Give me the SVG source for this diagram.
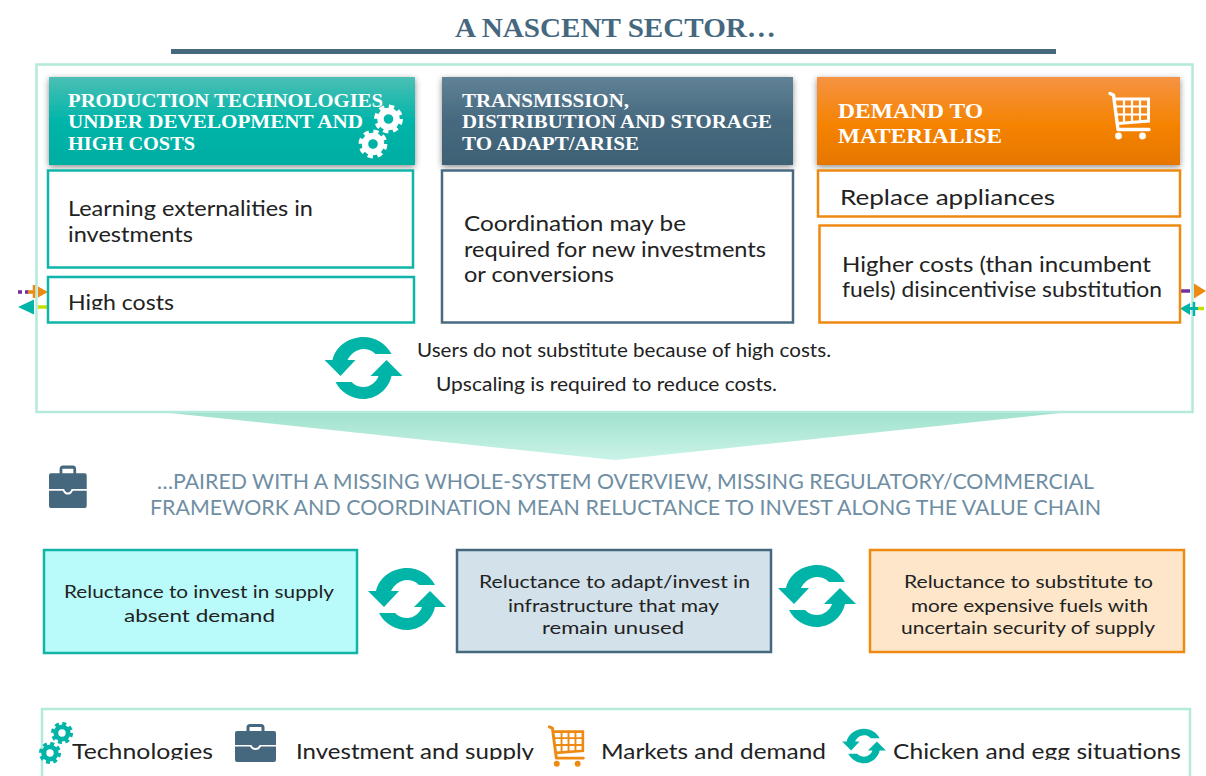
<svg xmlns="http://www.w3.org/2000/svg" width="1206" height="776" viewBox="0 0 1206 776">
<style>
text{font-family:"Lato","Noto Sans","Liberation Sans",sans-serif;fill:#222}
.b{font-size:20.500px}
.m{font-size:18.500px}
.s{font-size:18px}
.cap{font-size:20.500px;fill:#6f8ea3}
.h{font-family:"Liberation Serif",serif;font-weight:700;font-size:19px;fill:#fff}
.h2{font-family:"Liberation Serif",serif;font-weight:700;font-size:22px;fill:#fff}
.teal{fill:#fff;stroke:#0fb5a9;stroke-width:2.500}
.blue{fill:#fff;stroke:#4a6a80;stroke-width:2.500}
.org{fill:#fff;stroke:#ee8a12;stroke-width:2.500}
.frame{fill:#fff;stroke:#b4eadc;stroke-width:2.500}
</style>
<defs>
<linearGradient id="gt" x1="0" y1="0" x2="0" y2="1"><stop offset="0" stop-color="#4cbfb5"/><stop offset=".5" stop-color="#00b5a9"/><stop offset="1" stop-color="#00ada1"/></linearGradient>
<linearGradient id="gb" x1="0" y1="0" x2="0" y2="1"><stop offset="0" stop-color="#618296"/><stop offset=".5" stop-color="#46697f"/><stop offset="1" stop-color="#3e6175"/></linearGradient>
<linearGradient id="go" x1="0" y1="0" x2="0" y2="1"><stop offset="0" stop-color="#f59343"/><stop offset=".55" stop-color="#f58300"/><stop offset="1" stop-color="#e67600"/></linearGradient>
<linearGradient id="gw" x1="0" y1="0" x2="0" y2="1"><stop offset="0" stop-color="#a2e2ce"/><stop offset="1" stop-color="#c9f3e8"/></linearGradient>
<filter id="sh" x="-5%" y="-10%" width="110%" height="125%"><feDropShadow dx="0" dy="2" stdDeviation="3" flood-color="#000" flood-opacity=".45"/></filter>
<clipPath id="c1"><rect x="60" y="280" width="200" height="30"/></clipPath>
<clipPath id="c2"><rect x="60" y="730" width="1140" height="30"/></clipPath>
<g id="gear">
<circle r="8" fill="none" stroke="currentColor" stroke-width="6.400"/>
<circle r="12.400" fill="none" stroke="currentColor" stroke-width="4" stroke-dasharray="5.200 4.540"/>
</g>
<g id="cycle" fill="#00b4a8">
<path d="M-31,-8C-28,-22 -14,-31 0,-31C12,-31 23,-24 28,-14L12,-14C8,-18 4,-19 0,-19C-7,-19 -13,-14 -16,-8L-8,-8L-23,8L-39,-8Z"/>
<path d="M28,8C25,22 12,31 0,31C-12,31 -23,24 -28,14L-12,14C-8,18 -4,19 0,19C7,19 13,14 15,8L7,8L23,-8L39,8Z"/>
</g>
<g id="cart" fill="none" stroke="currentColor">
<path d="M1,1.500L4.500,3L9,37.500H40" stroke-width="3.400" stroke-linecap="round" stroke-linejoin="round"/>
<path d="M6,7H39.500V29L8.500,31.500" stroke-width="3"/>
<path d="M7,14.500H39M7.500,22.500H39M15,6V30M23,6V30M31,6V30" stroke-width="2.200"/>
<circle cx="9.500" cy="44" r="3.400" fill="currentColor" stroke="none"/>
<circle cx="33.500" cy="44" r="3.400" fill="currentColor" stroke="none"/>
</g>
<g id="case">
<path fill="none" stroke="#46687f" stroke-width="3" d="M13,9V3.500Q13,1.500 15,1.500H26Q28,1.500 28,3.500V9"/>
<path fill="#46687f" d="M2,7H39Q41,7 41,9V21H24.500Q23.500,24 20.500,24Q17.500,24 16.500,21H0V9Q0,7 2,7Z"/>
<path fill="#46687f" d="M0,22.500H15Q17,26 20.500,26Q24,26 26,22.500H41V36Q41,38 39,38H2Q0,38 0,36Z"/>
</g>
</defs>

<rect width="1206" height="776" fill="#fff"/>

<g id="title">
<text x="455" y="37" textLength="321" lengthAdjust="spacingAndGlyphs" style="font-family:'Liberation Serif',serif;font-weight:700;font-size:28px;fill:#46687f">A NASCENT SECTOR…</text>
<rect x="171" y="49" width="885" height="5" fill="#46687f"/>
</g>

<g id="panel">
<rect class="frame" x="36.500" y="64.500" width="1156" height="347.500"/>
<path d="M170,413H1060L615,460Z" fill="url(#gw)"/>
</g>

<g id="connectors">
<path d="M18,292H30" stroke="#7030a0" stroke-width="3.500" stroke-dasharray="4 3" fill="none"/>
<path d="M28,292H35" stroke="#ee8a12" stroke-width="3.500" fill="none"/>
<path d="M34,285V298" stroke="#ee8a12" stroke-width="2.500" fill="none"/>
<path d="M38,286.500L48,292L38,297.500Z" fill="#ee8a12"/>
<path d="M18,307L34,299.500V314.500Z" fill="#00b4a8"/>
<path d="M38,307H48" stroke="#c4e000" stroke-width="3.500" fill="none"/>
<path d="M1180,291H1190" stroke="#7030a0" stroke-width="3.500" fill="none"/>
<path d="M1194,283.500L1206,291L1194,298.500Z" fill="#ee8a12"/>
<path d="M1180,308.500L1190,303V315Z" fill="#00b4a8"/>
<path d="M1190,308.500H1198" stroke="#00b4a8" stroke-width="3" fill="none"/>
<path d="M1194,302V316" stroke="#00b4a8" stroke-width="2.500" fill="none"/>
<path d="M1198,308.500H1204" stroke="#c4e000" stroke-width="3.500" fill="none"/>
</g>

<g id="header-production">
<rect x="49" y="77" width="366" height="88" fill="url(#gt)" filter="url(#sh)"/>
<text class="h" x="68" y="107" textLength="315" lengthAdjust="spacingAndGlyphs">PRODUCTION TECHNOLOGIES</text>
<text class="h" x="68" y="128" textLength="295" lengthAdjust="spacingAndGlyphs">UNDER DEVELOPMENT AND</text>
<text class="h" x="68" y="150" textLength="127" lengthAdjust="spacingAndGlyphs">HIGH COSTS</text>
<use href="#gear" transform="translate(388.500 119)" color="#fff"/>
<use href="#gear" transform="translate(373 144)" color="#fff"/>
</g>
<g id="header-transmission">
<rect x="442" y="77" width="351" height="88" fill="url(#gb)" filter="url(#sh)"/>
<text class="h" x="462" y="107" textLength="167" lengthAdjust="spacingAndGlyphs">TRANSMISSION,</text>
<text class="h" x="462" y="128" textLength="310" lengthAdjust="spacingAndGlyphs">DISTRIBUTION AND STORAGE</text>
<text class="h" x="462" y="150" textLength="177" lengthAdjust="spacingAndGlyphs">TO ADAPT/ARISE</text>
</g>
<g id="header-demand">
<rect x="817" y="77" width="363" height="88" fill="url(#go)" filter="url(#sh)"/>
<text class="h2" x="838" y="118" textLength="145" lengthAdjust="spacingAndGlyphs">DEMAND TO</text>
<text class="h2" x="838" y="143" textLength="164" lengthAdjust="spacingAndGlyphs">MATERIALISE</text>
<use href="#cart" transform="translate(1109 92)" color="#fff"/>
</g>

<g id="box-learning">
<rect class="teal" x="48" y="170.500" width="365" height="97"/>
<text class="b" x="68" y="216" textLength="245" lengthAdjust="spacingAndGlyphs">Learning externalities in</text>
<text class="b" x="68" y="242" textLength="125" lengthAdjust="spacingAndGlyphs">investments</text>
</g>
<g id="box-high-costs">
<rect class="teal" x="48" y="277" width="366" height="45.500"/>
<text class="b" x="68" y="310" textLength="106" lengthAdjust="spacingAndGlyphs" clip-path="url(#c1)">High costs</text>
</g>
<g id="box-coordination">
<rect class="blue" x="442" y="170.500" width="351" height="152"/>
<text class="b" x="464" y="231" textLength="222" lengthAdjust="spacingAndGlyphs">Coordination may be</text>
<text class="b" x="464" y="257" textLength="302" lengthAdjust="spacingAndGlyphs">required for new investments</text>
<text class="b" x="464" y="282" textLength="150" lengthAdjust="spacingAndGlyphs">or conversions</text>
</g>
<g id="box-replace">
<rect class="org" x="818" y="170.500" width="362" height="46"/>
<text class="b" x="840" y="205" textLength="215" lengthAdjust="spacingAndGlyphs">Replace appliances</text>
</g>
<g id="box-higher-costs">
<rect class="org" x="819.500" y="225.500" width="360.500" height="97"/>
<text class="b" x="842" y="272" textLength="309" lengthAdjust="spacingAndGlyphs">Higher costs (than incumbent</text>
<text class="b" x="842" y="297" textLength="320" lengthAdjust="spacingAndGlyphs">fuels) disincentivise substitution</text>
</g>

<g id="loop-main">
<use href="#cycle" transform="translate(363.500 368)"/>
<text class="m" x="417" y="357" textLength="414" lengthAdjust="spacingAndGlyphs">Users do not substitute because of high costs.</text>
<text class="m" x="436" y="391" textLength="341" lengthAdjust="spacingAndGlyphs">Upscaling is required to reduce costs.</text>
</g>

<g id="caption">
<use href="#case" transform="translate(49 465.500) scale(.92 1.12)"/>
<text class="cap" x="157" y="489" textLength="937" lengthAdjust="spacingAndGlyphs">…PAIRED WITH A MISSING WHOLE-SYSTEM OVERVIEW, MISSING REGULATORY/COMMERCIAL</text>
<text class="cap" x="150" y="515" textLength="951" lengthAdjust="spacingAndGlyphs">FRAMEWORK AND COORDINATION MEAN RELUCTANCE TO INVEST ALONG THE VALUE CHAIN</text>
</g>

<g id="box-supply">
<rect x="44" y="550" width="313" height="103" fill="#b8fbfa" stroke="#10b5a8" stroke-width="2.500"/>
<text class="s" x="64" y="598" textLength="270" lengthAdjust="spacingAndGlyphs">Reluctance to invest in supply</text>
<text class="s" x="124" y="622" textLength="151" lengthAdjust="spacingAndGlyphs">absent demand</text>
</g>
<g id="loop-left"><use href="#cycle" transform="translate(407 599)"/></g>
<g id="box-infrastructure">
<rect x="457" y="550" width="314" height="102" fill="#d3e1ea" stroke="#46687f" stroke-width="2.500"/>
<text class="s" x="479" y="588" textLength="271" lengthAdjust="spacingAndGlyphs">Reluctance to adapt/invest in</text>
<text class="s" x="508" y="611.500" textLength="211" lengthAdjust="spacingAndGlyphs">infrastructure that may</text>
<text class="s" x="542" y="634" textLength="142" lengthAdjust="spacingAndGlyphs">remain unused</text>
</g>
<g id="loop-right"><use href="#cycle" transform="translate(817 596)"/></g>
<g id="box-substitute">
<rect x="870" y="550" width="314" height="102" fill="#fde6c9" stroke="#ee8a12" stroke-width="2.500"/>
<text class="s" x="904" y="588" textLength="249" lengthAdjust="spacingAndGlyphs">Reluctance to substitute to</text>
<text class="s" x="911" y="611.500" textLength="237" lengthAdjust="spacingAndGlyphs">more expensive fuels with</text>
<text class="s" x="901" y="634" textLength="254" lengthAdjust="spacingAndGlyphs">uncertain security of supply</text>
</g>

<g id="legend">
<rect class="frame" x="42" y="709" width="1148" height="90"/>
<use href="#gear" transform="translate(62 733) scale(.77)" color="#00b4a8"/>
<use href="#gear" transform="translate(50 753) scale(.77)" color="#00b4a8"/>
<use href="#case" transform="translate(235 724)"/>
<use href="#cart" transform="translate(548.500 725.500) scale(.87)" color="#ee8a12"/>
<use href="#cycle" transform="translate(864 746) scale(.56)"/>
<g clip-path="url(#c2)">
<text class="b" x="72" y="759" textLength="141" lengthAdjust="spacingAndGlyphs">Technologies</text>
<text class="b" x="296" y="759" textLength="238" lengthAdjust="spacingAndGlyphs">Investment and supply</text>
<text class="b" x="601" y="759" textLength="225" lengthAdjust="spacingAndGlyphs">Markets and demand</text>
<text class="b" x="893" y="759" textLength="288" lengthAdjust="spacingAndGlyphs">Chicken and egg situations</text>
</g>
</g>
</svg>
